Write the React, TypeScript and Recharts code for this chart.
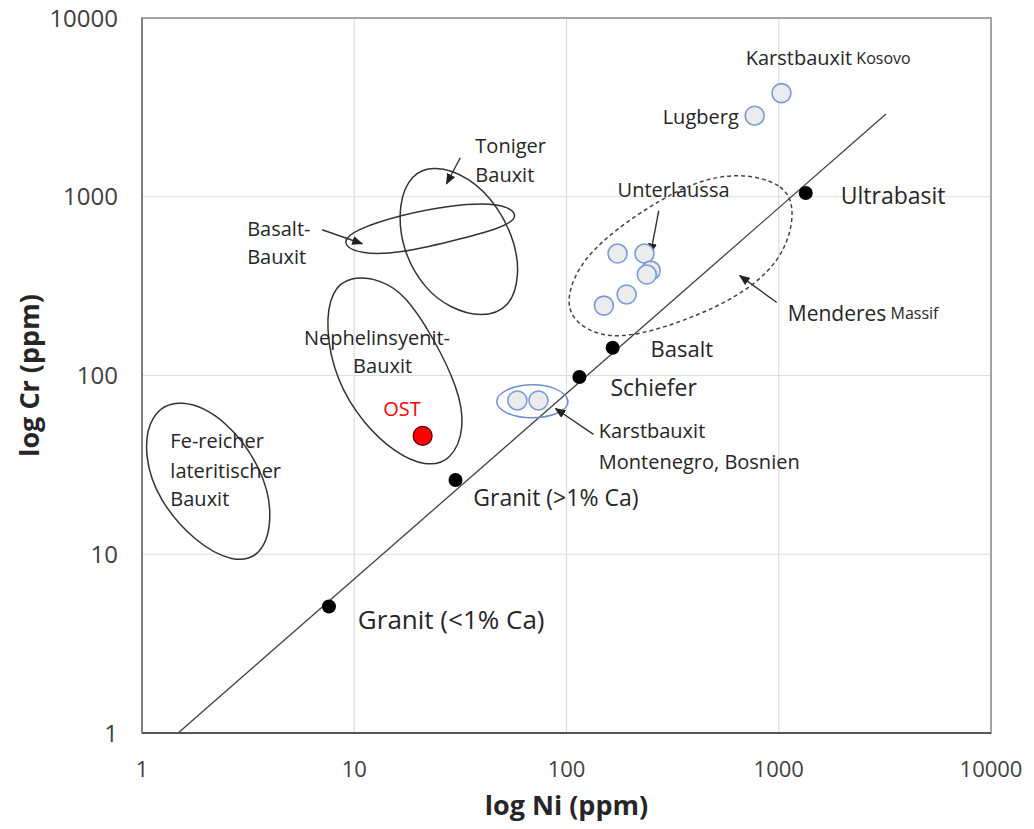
import React from "react";
import {
    ScatterChart,
    Scatter,
    XAxis,
    YAxis,
    CartesianGrid,
    ReferenceLine,
    ReferenceArea,
} from "recharts";

// log axes, Ni (x) and Cr (y) in ppm
const logTicks = [1, 10, 100, 1000, 10000];

// reference rocks on the trend line
const rockPoints = [
    { x: 7.6, y: 5.1 },
    { x: 30, y: 26 },
    { x: 115, y: 98 },
    { x: 165, y: 143 },
    { x: 1340, y: 1050 },
];

const ostPoint = [{ x: 21, y: 46 }];

// Kosovo, Lugberg, Unterlaussa (6), Montenegro/Bosnien (2)
const bauxitPoints = [
    { x: 1030, y: 3800 },
    { x: 770, y: 2840 },
    { x: 174, y: 481 },
    { x: 233, y: 481 },
    { x: 249, y: 386 },
    { x: 239, y: 367 },
    { x: 192, y: 284 },
    { x: 150, y: 246 },
    { x: 58.7, y: 72.5 },
    { x: 73.8, y: 72.5 },
];

const trendLine = [
    { x: 1.48, y: 1 },
    { x: 3200, y: 2900 },
];

// outlines of the fields
const feReicherField = [
    { x: 1.51, y: 76 }, { x: 2.52, y: 57 }, { x: 3.72, y: 29.5 }, { x: 4.15, y: 16.5 },
    { x: 3.72, y: 9.8 }, { x: 2.69, y: 8.9 }, { x: 1.76, y: 11.8 }, { x: 1.2, y: 20.0 },
    { x: 1.02, y: 35 }, { x: 1.08, y: 61 },
];

const nephelinField = [
    { x: 9.57, y: 360 }, { x: 13.3, y: 345 }, { x: 17.4, y: 283 }, { x: 23.6, y: 163 },
    { x: 30.8, y: 85.7 }, { x: 33.4, y: 51.2 }, { x: 28.6, y: 33 }, { x: 21.6, y: 31 },
    { x: 15.6, y: 36.8 }, { x: 11.0, y: 53.9 }, { x: 8.2, y: 93.8 }, { x: 7.3, y: 185 },
    { x: 7.8, y: 300 },
];

const tonigerField = [
    { x: 23.6, y: 1500 }, { x: 34.5, y: 1310 }, { x: 48, y: 880 }, { x: 57.5, y: 546 },
    { x: 60, y: 371 }, { x: 55, y: 240 }, { x: 39.3, y: 210 }, { x: 28.2, y: 240 },
    { x: 21.8, y: 298 }, { x: 16.7, y: 499 }, { x: 16.1, y: 930 }, { x: 18.6, y: 1340 },
];

const basaltBauxitField = [
    { x: 8.6, y: 553 }, { x: 10.1, y: 655 }, { x: 16.5, y: 790 }, { x: 28.4, y: 900 },
    { x: 49.5, y: 930 }, { x: 61, y: 783 }, { x: 49.5, y: 665 }, { x: 28.4, y: 562 },
    { x: 16.5, y: 482 }, { x: 10.5, y: 476 },
];

const menderesField = [
    { x: 684, y: 1360 }, { x: 1070, y: 1170 }, { x: 1200, y: 835 }, { x: 1070, y: 475 },
    { x: 738, y: 305 }, { x: 429, y: 218 }, { x: 223, y: 168 }, { x: 145, y: 163 },
    { x: 105, y: 205 }, { x: 100, y: 280 }, { x: 118, y: 442 }, { x: 174, y: 670 },
    { x: 277, y: 965 }, { x: 429, y: 1250 },
];

const montenegroField = [
    { x: 44.8, y: 71.6 }, { x: 51.5, y: 84.6 }, { x: 67.6, y: 90.2 }, { x: 88.7, y: 86.8 },
    { x: 107, y: 72.5 }, { x: 93.7, y: 60.5 }, { x: 67.6, y: 56.8 }, { x: 51.5, y: 60.5 },
];

// arrows: tail -> head
const arrows = [
    [{ x: 31.6, y: 1652 }, { x: 27.2, y: 1182 }],
    [{ x: 7.06, y: 654 }, { x: 10.9, y: 546 }],
    [{ x: 272, y: 835 }, { x: 249, y: 481 }],
    [{ x: 979, y: 256 }, { x: 655, y: 362 }],
    [{ x: 134, y: 46.8 }, { x: 88.7, y: 65.4 }],
];

const labels = [
    { x: 699, y: 5980, text: "Karstbauxit", sub: "Kosovo" },
    { x: 648, y: 2800, text: "Lugberg" },
    { x: 37.2, y: 1928, text: "Toniger" },
    { x: 37.2, y: 1327, text: "Bauxit" },
    { x: 174, y: 1094, text: "Unterlaussa" },
    { x: 1960, y: 1026, text: "Ultrabasit" },
    { x: 3.13, y: 662, text: "Basalt-" },
    { x: 3.13, y: 462, text: "Bauxit" },
    { x: 1103, y: 225, text: "Menderes", sub: "Massif" },
    { x: 12.8, y: 163, text: "Nephelinsyenit-" },
    { x: 13.6, y: 114, text: "Bauxit" },
    { x: 249, y: 142, text: "Basalt" },
    { x: 161, y: 85.7, text: "Schiefer" },
    { x: 16.8, y: 65.4, text: "OST" },
    { x: 142, y: 49.3, text: "Karstbauxit" },
    { x: 142, y: 33.1, text: "Montenegro, Bosnien" },
    { x: 1.36, y: 43.4, text: "Fe-reicher" },
    { x: 1.36, y: 29.5, text: "lateritischer" },
    { x: 1.36, y: 20.5, text: "Bauxit" },
    { x: 36.4, y: 20.8, text: "Granit (>1% Ca)" },
    { x: 10.4, y: 4.33, text: "Granit (<1% Ca)" },
];

const FONT = "'Open Sans', sans-serif";
const labelSizes: Record<string, number> = {
    "Ultrabasit": 23,
    "Basalt": 22,
    "Schiefer": 23,
    "Menderes": 21,
    "Granit (>1% Ca)": 23,
    "Granit (<1% Ca)": 26,
};

const NoDot = () => <g />;

const LabelShape = (props: any) => {
    const { cx, cy, payload } = props;
    const t = payload.text;
    let anchor = "start";
    if (t === "Lugberg") anchor = "end";
    if (t === "OST" || (t === "Bauxit" && payload.x > 10 && payload.x < 20) || t === "Nephelinsyenit-") anchor = "middle";
    const size = labelSizes[t] ?? 20;
    const color = t === "OST" ? "#ff0000" : "#262626";
    return (
        <text x={cx} y={cy} textAnchor={anchor} dominantBaseline="central" fontSize={size} fill={color} fontFamily={FONT}>
            {t}
            {payload.sub && <tspan fontSize={16}>{" " + payload.sub}</tspan>}
        </text>
    );
};

const field = (data: any[], key: string, stroke: string, dash?: string) => (
    <Scatter
        key={key}
        data={data}
        shape={NoDot}
        line={{ stroke, strokeWidth: 1.5, strokeDasharray: dash }}
        lineJointType="basisClosed"
        isAnimationActive={false}
    />
);

const App = () => {
    return (
        <div style={{ width: 1018, height: 828, marginTop: -8, fontFamily: FONT }}>
            <ScatterChart width={1018} height={828} margin={{ top: 18, right: 35, left: 0, bottom: 0 }}>
                <defs>
                    <marker id="arrowHead" markerWidth="11" markerHeight="9" refX="10" refY="4.5" orient="auto" markerUnits="userSpaceOnUse">
                        <path d="M0,0 L11,4.5 L0,9 z" fill="#222" />
                    </marker>
                </defs>
                <CartesianGrid stroke="#dcdcdc" strokeWidth={1.2} />
                <XAxis
                    dataKey="x"
                    type="number"
                    scale="log"
                    domain={[1, 10000]}
                    ticks={logTicks}
                    interval={0}
                    allowDataOverflow
                    height={95}
                    tickLine={false}
                    tickSize={0}
                    tickMargin={28}
                    axisLine={{ stroke: "#555", strokeWidth: 2 }}
                    tick={{ fontSize: 22, fill: "#404040", fontFamily: FONT }}
                    label={{
                        value: "log Ni (ppm)",
                        position: "insideBottom",
                        offset: 13,
                        style: { fontSize: 27, fontWeight: "bold", fill: "#262626", fontFamily: FONT },
                    }}
                />
                <YAxis
                    dataKey="y"
                    type="number"
                    scale="log"
                    domain={[1, 10000]}
                    ticks={logTicks}
                    interval={0}
                    allowDataOverflow
                    width={134}
                    tickLine={false}
                    tickSize={0}
                    tickMargin={24}
                    axisLine={{ stroke: "#7f7f7f", strokeWidth: 2 }}
                    tick={{ fontSize: 24, fill: "#404040", fontFamily: FONT }}
                    label={{
                        value: "log Cr (ppm)",
                        angle: -90,
                        position: "insideLeft",
                        offset: 21,
                        style: { textAnchor: "middle", fontSize: 27, fontWeight: "bold", fill: "#262626", fontFamily: FONT },
                    }}
                />
                <ReferenceArea x1={1} x2={10000} y1={1} y2={10000} fill="none" stroke="#8c8c8c" strokeWidth={1.5} />
                <ReferenceLine segment={trendLine} stroke="#404040" strokeWidth={1.3} />

                {field(feReicherField, "fe", "#333")}
                {field(nephelinField, "neph", "#333")}
                {field(tonigerField, "ton", "#333")}
                {field(basaltBauxitField, "bb", "#333")}
                {field(menderesField, "mend", "#444", "4 3")}
                {field(montenegroField, "mont", "#6f8fcf")}

                {arrows.map((a, i) => (
                    <Scatter
                        key={"arrow" + i}
                        data={a}
                        shape={NoDot}
                        line={{ stroke: "#333", strokeWidth: 1.4, markerEnd: "url(#arrowHead)" }}
                        isAnimationActive={false}
                    />
                ))}

                <Scatter
                    data={bauxitPoints}
                    isAnimationActive={false}
                    shape={(p: any) => <circle cx={p.cx} cy={p.cy} r={9.5} fill="#ececec" stroke="#7b9bd8" strokeWidth={1.6} />}
                />
                <Scatter
                    data={rockPoints}
                    isAnimationActive={false}
                    shape={(p: any) => <circle cx={p.cx} cy={p.cy} r={7} fill="#000" />}
                />
                <Scatter
                    data={ostPoint}
                    isAnimationActive={false}
                    shape={(p: any) => <circle cx={p.cx} cy={p.cy} r={9.5} fill="#ff0000" stroke="#5a0000" strokeWidth={1.2} />}
                />
                <Scatter data={labels} isAnimationActive={false} shape={LabelShape} />
            </ScatterChart>
        </div>
    );
};

export default App;
